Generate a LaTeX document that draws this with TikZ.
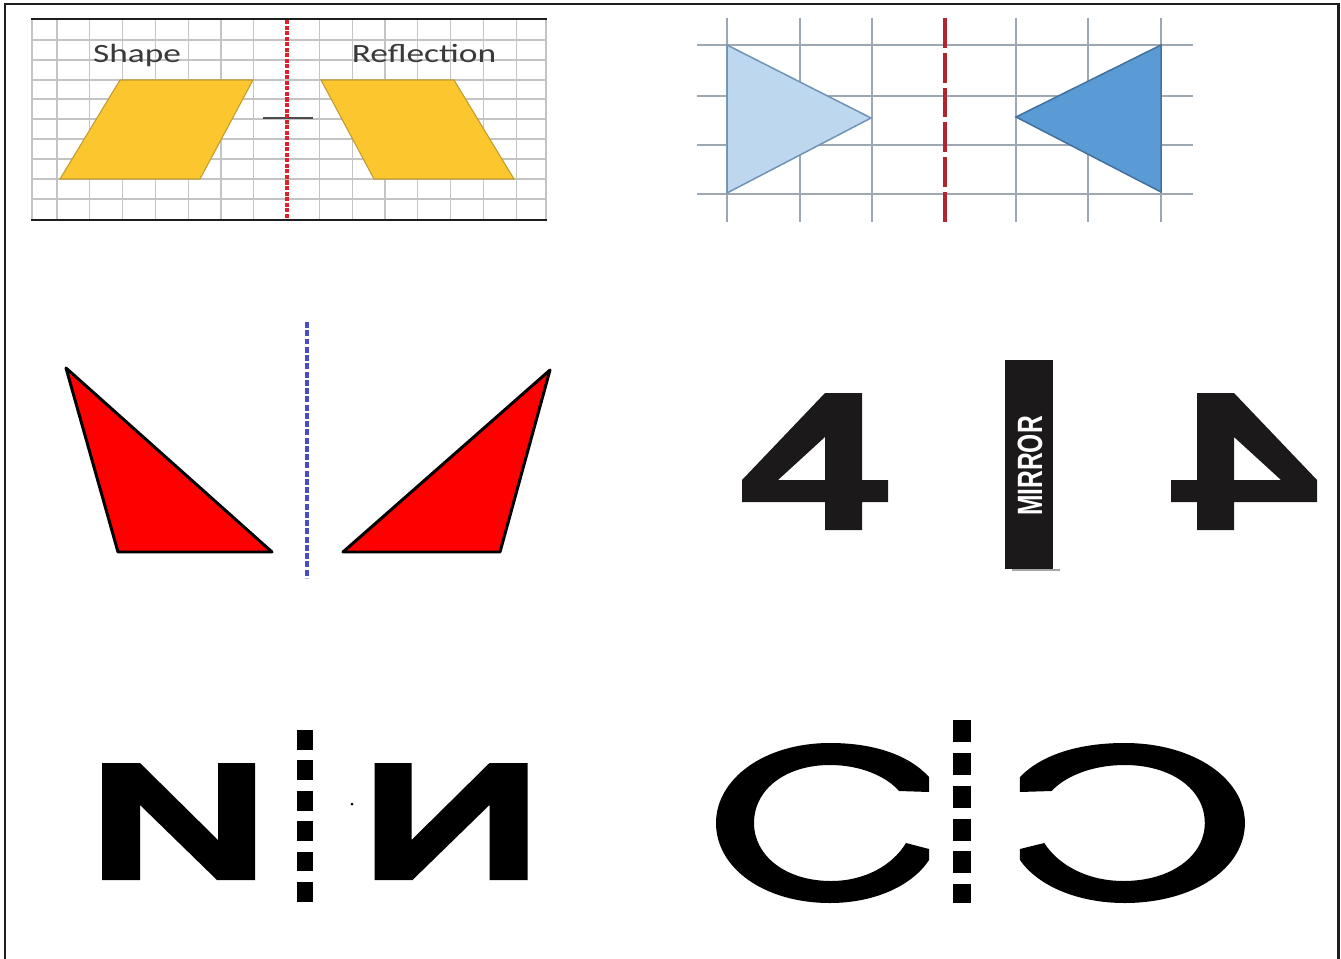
\documentclass[tikz,border=0pt]{standalone}
\usepackage{fontspec}
\usepackage{graphicx}
\newfontfamily\calibfont{Carlito}
\newfontfamily\arialfont{Liberation Sans}
\definecolor{framec}{HTML}{1E1E1E}
\definecolor{gridc}{HTML}{C4C4C4}
\definecolor{grid2c}{HTML}{9DA8B3}
\definecolor{yellowc}{HTML}{FCC72E}
\definecolor{yellowedge}{HTML}{BF9B30}
\definecolor{redline}{HTML}{E0202A}
\definecolor{darkred}{HTML}{B0262E}
\definecolor{lightblue}{HTML}{BDD7EE}
\definecolor{lightblueedge}{HTML}{6F93B8}
\definecolor{midblue}{HTML}{5B9BD5}
\definecolor{midblueedge}{HTML}{41719C}
\definecolor{trired}{HTML}{FF0000}
\definecolor{bluedashc}{HTML}{4B4BC8}
\definecolor{inkc}{HTML}{1B1919}
\definecolor{textgray}{HTML}{3A3A3A}
\newcommand\drawFourGlyph{\fill[inkc, even odd rule] (825,393) -- (862,393) -- (862,480) -- (888,480) -- (888,502) -- (862,502) -- (862,530) -- (825,530) -- (825,502) -- (742,502) -- (742,480) -- cycle (825,437) -- (825,480) -- (778,480) -- cycle;}
\newcommand\drawNGlyph{\fill[black] (102,763) -- (140,763) -- (218,840) -- (218,763) -- (255,763) -- (255,880) -- (217,880) -- (140,805) -- (140,880) -- (102,880) -- cycle;}
\newcommand\drawCGlyph{\fill[black] (929,777) .. controls (908,754) and (872,743) .. (830,743)
 .. controls (764,743) and (716,779) .. (716,823)
 .. controls (716,868) and (764,903) .. (830,903)
 .. controls (874,903) and (912,886) .. (929,860)
 -- (929,849) -- (906,843)
 .. controls (892,866) and (864,881) .. (831,881)
 .. controls (786,881) and (754,856) .. (754,823)
 .. controls (754,789) and (786,765) .. (830,765)
 .. controls (860,765) and (886,776) .. (899,791)
 -- (929,792) -- cycle;}
\tikzset{
  gridline/.style={draw=gridc, line width=0.75pt},
  gridline2/.style={draw=grid2c, line width=0.8pt},
  blackrule/.style={draw=framec, line width=1.6pt},
  para/.style={fill=yellowc, draw=yellowedge, line width=0.6pt},
  lbl/.style={text=textgray, font=\calibfont\fontsize{15}{18}\selectfont, inner sep=0pt, anchor=base},
  redtri/.style={fill=trired, draw=black, line width=1.7pt, line join=round},
}
\begin{document}
\begin{tikzpicture}[x=0.02cm, y=-0.02cm]
\useasboundingbox (0,0) rectangle (1341,959);
\fill[white] (0,0) rectangle (1341,959);
% outer frame
\draw[framec, line width=1.7pt] (5,959) -- (5,4) -- (1338,4) -- (1338,959);

% ---------- top-left panel ----------
\foreach \yy in {40,60,80,99,119,139,159,179,199}
  \draw[gridline] (32,\yy) -- (546,\yy);
\foreach \xx in {32,57,89.8,122.6,155.4,188.2,221,253.8,319.4,352.2,385,417.8,450.6,483.4,516.2,546}
  \draw[gridline] (\xx,19) -- (\xx,220);
\draw[blackrule] (31,19) -- (547,19);
\draw[blackrule] (31,220) -- (547,220);
\draw[black!70, line width=0.6pt] (263,118) -- (313,118);
\fill[para] (120,80) -- (253,80) -- (200,179) -- (60,179) -- cycle;
\fill[para] (321,80) -- (454,80) -- (514,179) -- (374,179) -- cycle;
\draw[redline, line width=2pt, dash pattern=on 2.3pt off 0.85pt] (287,20) -- (287,218);
\node[lbl] (shape) at (137,63) {\scalebox{1.34}[1]{Shape}};
\node[lbl] (reflection) at (424,63) {\scalebox{1.345}[1]{Reflection}};

% ---------- top-right panel ----------
\foreach \yy in {45,96,145,194}
  \draw[gridline2] (697,\yy) -- (1193,\yy);
\foreach \xx in {727,800,872,1016,1088,1161}
  \draw[gridline2] (\xx,18) -- (\xx,222);
\filldraw[fill=lightblue, draw=lightblueedge, line width=0.85pt] (727,45) -- (871,118) -- (727,193) -- cycle;
\filldraw[fill=midblue, draw=midblueedge, line width=0.85pt] (1161,45) -- (1016,117) -- (1161,192) -- cycle;
\draw[darkred, line width=2.3pt, dash pattern=on 17pt off 2.8pt] (945,18) -- (945,222);

% ---------- middle-left: red triangles ----------
\filldraw[redtri] (66,368) -- (272,552) -- (118,552) -- cycle;
\filldraw[redtri] (550,370) -- (500,552) -- (343,552) -- cycle;
\draw[bluedashc, line width=2.2pt, dash pattern=on 3.4pt off 1.3pt] (307,322) -- (307,578);

% ---------- middle-right: 4 | MIRROR | 4 ----------
\drawFourGlyph
\begin{scope}[shift={(2059,0)}, xscale=-1]
  \drawFourGlyph
\end{scope}
\fill[inkc] (1005,360) rectangle (1053,569);
\draw[gray!70, line width=0.6pt] (1012,570) -- (1060,570);
\node[text=white, font=\arialfont\bfseries\fontsize{20}{20}\selectfont, rotate=90, inner sep=0pt] (mirror) at (1030,466) {\scalebox{0.7}[1]{MIRROR}};

% ---------- bottom-left: N | N mirrored ----------
\drawNGlyph
\begin{scope}[shift={(629.5,0)}, xscale=-1]
  \drawNGlyph
\end{scope}
\draw[black, line width=9.07pt, dash pattern=on 11.34pt off 5.95pt] (305,730) -- (305,903);
\fill[black] (352,804) circle (1.5);

% ---------- bottom-right: C | C mirrored ----------
\drawCGlyph
\begin{scope}[shift={(2001,0)}, xscale=-1.056]
  \drawCGlyph
\end{scope}
\draw[black, line width=10.2pt, dash pattern=on 12.5pt off 6.2pt] (962,720) -- (962,903);
\end{tikzpicture}
\end{document}
